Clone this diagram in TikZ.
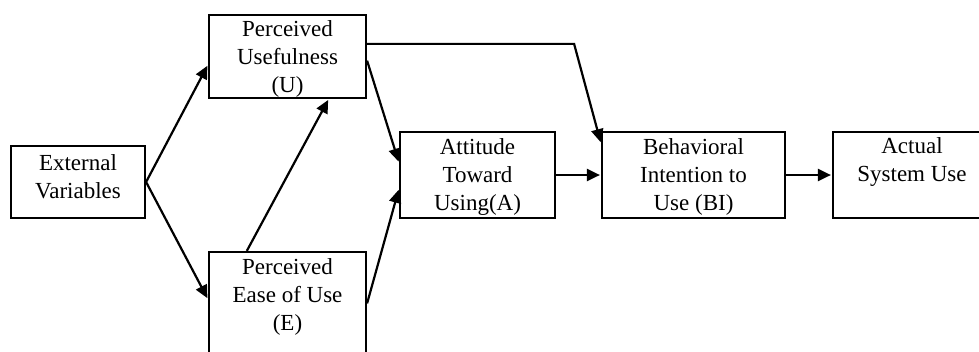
\documentclass[tikz,border=0pt]{standalone}
\usepackage{fontspec}
\setmainfont{Liberation Serif}
\usetikzlibrary{arrows.meta, positioning}

\begin{document}
\begin{tikzpicture}[x=1pt,y=1pt,shorten >=1pt,on grid,>={Triangle[length=13pt,width=12pt]}]
    \tikzstyle{var}=[shape=rectangle,draw,line width=2.2pt,align=center,inner sep=0pt,text depth=0pt,minimum height=86pt,font=\fontsize{23}{28}\selectfont]
    \tikzstyle{link}=[->,line width=2.2pt]

    \useasboundingbox (0,0) rectangle (979,-351);
    \clip (0,0) rectangle (979,-351);
    \fill[white] (0,0) rectangle (979,-351);

    \node[var, minimum width=134pt, minimum height=72pt, text depth=10pt] (EV) at (78,-182) {External\\Variables};
    \node[var, minimum width=157pt, minimum height=83pt, above right=125.5pt and 209.5pt of EV] (PU) {Perceived\\Usefulness\\(U)};
    \node[var, minimum width=157pt, minimum height=128pt, text depth=42pt, below right=134pt and 209.5pt of EV] (PE) {Perceived\\Ease of Use\\(E)};
    \node[var, minimum width=155pt, below right=118.5pt and 190pt of PU] (A) {Attitude\\Toward\\Using(A)};
    \node[var, minimum width=183pt, right=216pt of A] (BI) {Behavioral\\Intention to\\Use (BI)};
    \node[var, minimum width=158pt, text depth=30pt, right=218.5pt of BI] (ASU) {Actual\\System Use};

    \path[link]
    (EV.east) edge (PU.186)
    (EV.east) edge (PE.168)
    (PE.122) edge (PU.314)
    (PU.357) edge (A.171)
    (PE.9) edge (A.190)
    (A) edge (BI)
    (BI) edge (ASU)
    ;

    \draw[link] (PU.9) -- ++(207,0) -- (BI.161);

\end{tikzpicture}
\end{document}
